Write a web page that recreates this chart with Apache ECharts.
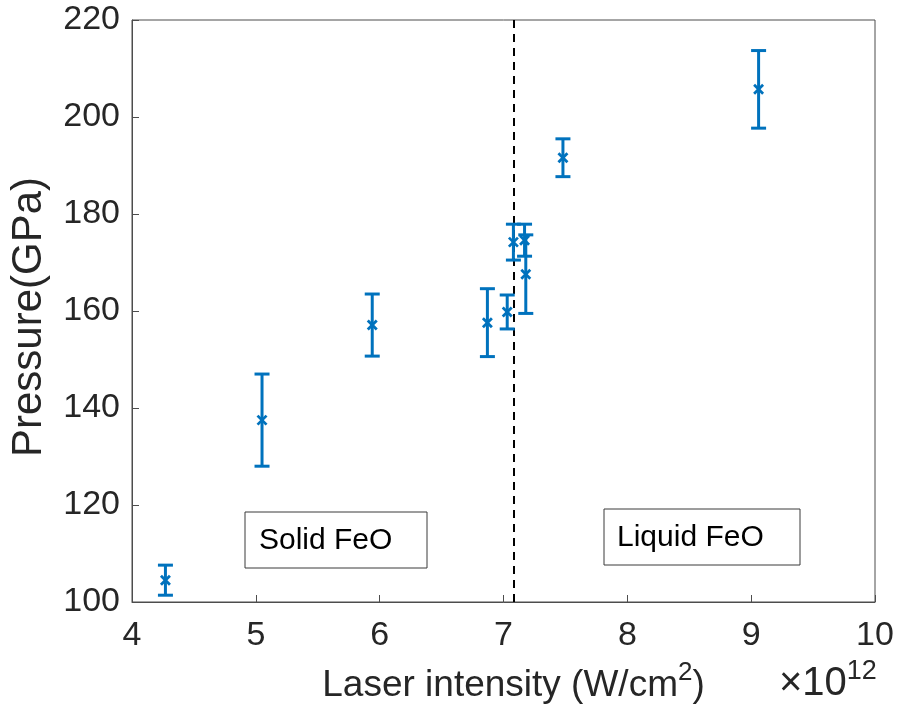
<!DOCTYPE html>
<html>
<head>
<meta charset="utf-8">
<script src="https://cdn.jsdelivr.net/npm/echarts@6/dist/echarts.min.js"></script>
<style>
html,body{margin:0;padding:0;background:#fff;}
#chart{width:897px;height:722px;}
</style>
</head>
<body>
<div id="chart"></div>
<script>
// ---- data ----
const intensity = [4.27, 5.05, 5.94, 6.87, 7.03, 7.08, 7.17, 7.18, 7.48, 9.06];   // x 1e12 W/cm^2
const pressure  = [104.5, 137.5, 157.1, 157.6, 159.8, 174.2, 174.6, 167.6, 191.6, 205.7]; // GPa
const pressureErr = [3.1, 9.5, 6.4, 7.0, 3.5, 3.7, 3.3, 8.1, 3.9, 8.0];
const meltIntensity = 7.08;
const xTicks = [4, 5, 6, 7, 8, 9, 10];
const yTicks = [100, 120, 140, 160, 180, 200, 220];
const regionLabels = ['Solid FeO', 'Liquid FeO'];

const FONT = "'Liberation Sans', Arial, Helvetica, sans-serif";
const BLUE = '#0072BD';
const TXT = '#262626';

const pts = intensity.map((x, i) => [x, pressure[i], pressureErr[i]]);

const chart = echarts.init(document.getElementById('chart'), null, {renderer: 'canvas'});
chart.setOption({
  animation: false,
  backgroundColor: '#fff',
  grid: {left: 130, right: 22, top: 20, bottom: 120, show: true, borderColor: '#4d4d4d', borderWidth: 1, backgroundColor: 'transparent'},
  xAxis: {
    type: 'value', min: xTicks[0], max: xTicks[xTicks.length - 1], interval: 1,
    axisLine: {show: true, lineStyle: {color: '#4d4d4d', width: 1}},
    axisTick: {show: true, inside: true, length: 7, lineStyle: {color: '#4d4d4d'}},
    splitLine: {show: false},
    axisLabel: {color: TXT, fontFamily: FONT, fontSize: 34, margin: 17},
    name: '{n|Laser intensity (W/cm}{s|2}{n|)}',
    nameLocation: 'middle', nameGap: 58,
    nameTextStyle: {
      padding: [0, 0, 0, 20],
      rich: {
        n: {fontFamily: FONT, fontSize: 37, color: TXT, verticalAlign: 'bottom', lineHeight: 44},
        s: {fontFamily: FONT, fontSize: 26, color: TXT, verticalAlign: 'top', lineHeight: 44, padding: [0,0,14,0]}
      }
    }
  },
  yAxis: {
    type: 'value', min: yTicks[0], max: yTicks[yTicks.length - 1], interval: 20,
    axisLine: {show: true, lineStyle: {color: '#4d4d4d', width: 1}},
    axisTick: {show: true, inside: true, length: 7, lineStyle: {color: '#4d4d4d'}},
    splitLine: {show: false},
    axisLabel: {color: TXT, fontFamily: FONT, fontSize: 34, margin: 12},
    name: 'Pressure(GPa)', nameLocation: 'middle', nameGap: 82,
    nameTextStyle: {color: TXT, fontFamily: FONT, fontSize: 42, padding: [0, 12, 0, 0]}
  },
  graphic: [
    {type: 'rect', shape: {x: 245, y: 512, width: 182, height: 56}, style: {fill: '#fff', stroke: '#3a3a3a', lineWidth: 1}, z: 10},
    {type: 'text', x: 259, y: 541, style: {text: regionLabels[0], font: '30px ' + FONT, fill: '#000', textVerticalAlign: 'middle'}, z: 11},
    {type: 'rect', shape: {x: 604, y: 509, width: 196, height: 56}, style: {fill: '#fff', stroke: '#3a3a3a', lineWidth: 1}, z: 10},
    {type: 'text', x: 617, y: 538, style: {text: regionLabels[1], font: '30px ' + FONT, fill: '#000', textVerticalAlign: 'middle'}, z: 11},
    {type: 'text', x: 779, y: 704, style: {
      text: '{a|×10}{b|12}',
      rich: {
        a: {fontFamily: FONT, fontSize: 40, fill: TXT, verticalAlign: 'bottom', lineHeight: 46},
        b: {fontFamily: FONT, fontSize: 27, fill: TXT, verticalAlign: 'top', lineHeight: 46, padding: [0,0,16,0]}
      },
      textVerticalAlign: 'bottom'
    }, z: 11}
  ],
  series: [
    {
      type: 'custom',
      data: pts,
      z: 5,
      renderItem: function (params, api) {
        const x = api.value(0), y = api.value(1), e = api.value(2);
        const c = api.coord([x, y]);
        const hi = api.coord([x, y + e]);
        const lo = api.coord([x, y - e]);
        const cw = 7.5, m = 4.5;
        const ls = {stroke: BLUE, lineWidth: 3};
        const ms = {stroke: BLUE, lineWidth: 2.8};
        return {
          type: 'group',
          children: [
            {type: 'line', shape: {x1: hi[0], y1: hi[1], x2: lo[0], y2: lo[1]}, style: ls},
            {type: 'line', shape: {x1: hi[0] - cw, y1: hi[1], x2: hi[0] + cw, y2: hi[1]}, style: ls},
            {type: 'line', shape: {x1: lo[0] - cw, y1: lo[1], x2: lo[0] + cw, y2: lo[1]}, style: ls},
            {type: 'line', shape: {x1: c[0] - m, y1: c[1] - m, x2: c[0] + m, y2: c[1] + m}, style: ms},
            {type: 'line', shape: {x1: c[0] - m, y1: c[1] + m, x2: c[0] + m, y2: c[1] - m}, style: ms}
          ]
        };
      },
      markLine: {
        silent: true, symbol: 'none', label: {show: false},
        lineStyle: {color: '#000', type: [8, 6], width: 2},
        data: [{xAxis: meltIntensity}]
      }
    }
  ]
});
</script>
</body>
</html>
